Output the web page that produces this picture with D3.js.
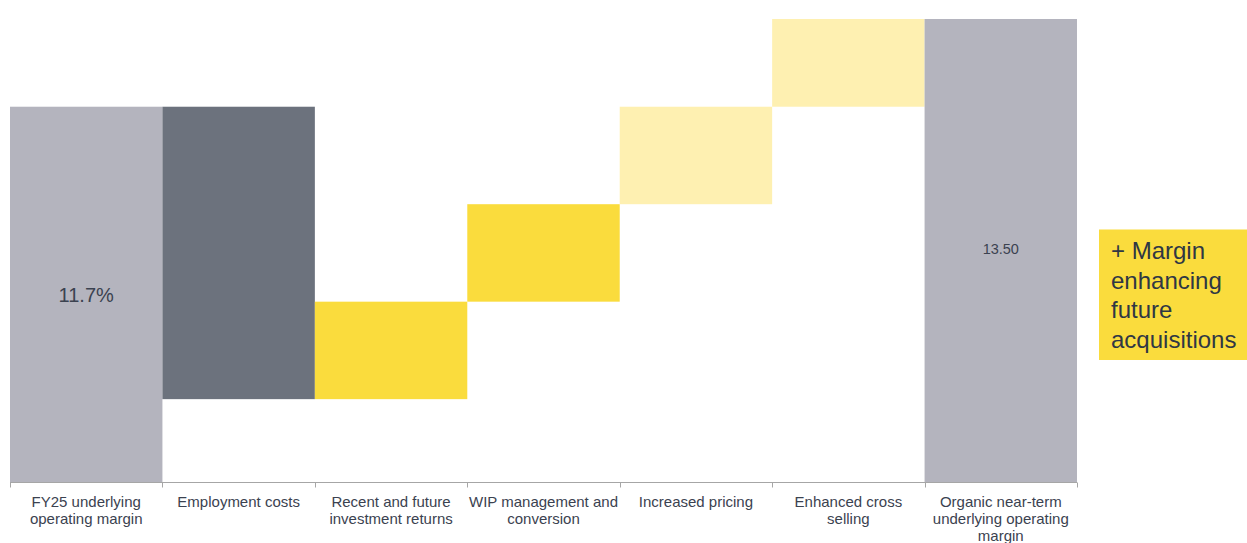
<!DOCTYPE html>
<html>
<head>
<meta charset="utf-8">
<script src="https://cdn.jsdelivr.net/npm/d3@7"></script>
<style>
  html, body { margin: 0; padding: 0; background: #ffffff; }
  svg { display: block; font-family: "Liberation Sans", Arial, sans-serif; }
</style>
</head>
<body>
<svg id="chart" width="1247" height="543"></svg>
<script>
// Waterfall steps: operating margin bridge (percentage points)
const categories = [
  "FY25 underlying operating margin",
  "Employment costs",
  "Recent and future investment returns",
  "WIP management and conversion",
  "Increased pricing",
  "Enhanced cross selling",
  "Organic near-term underlying operating margin"
];
const categoryLines = [
  ["FY25 underlying", "operating margin"],
  ["Employment costs"],
  ["Recent and future", "investment returns"],
  ["WIP management and", "conversion"],
  ["Increased pricing"],
  ["Enhanced cross", "selling"],
  ["Organic near-term", "underlying operating", "margin"]
];
const stepValues = [11.7, -6.0, 2.0, 2.0, 2.0, 1.8, 13.5];
const stepKinds = ["total", "decrease", "increase", "increase", "uplift", "uplift", "total"];
const valueLabels = ["11.7%", null, null, null, null, null, "13.50"];
const calloutLines = ["+ Margin", "enhancing", "future", "acquisitions"];

const colors = {
  total: "#b4b4be",
  decrease: "#6c727d",
  increase: "#fadc3d",
  uplift: "#fef0b1"
};

// Build running start/end for each bar
let running = 0;
const bars = categories.map((c, i) => {
  let y0, y1;
  if (stepKinds[i] === "total") {
    y0 = 4; y1 = stepValues[i];
    running = stepValues[i];
  } else {
    y0 = running; y1 = running + stepValues[i];
    running = y1;
  }
  return { cat: c, lines: categoryLines[i], kind: stepKinds[i], y0, y1, label: valueLabels[i] };
});

const svg = d3.select("#chart");

const x = d3.scaleBand().domain(categories).range([10, 1077]).padding(0);
const y = d3.scaleLinear().domain([4, 13.5]).range([482, 19]);

// Bars
svg.append("g").selectAll("rect")
  .data(bars)
  .join("rect")
  .attr("x", d => x(d.cat))
  .attr("width", x.bandwidth())
  .attr("y", d => y(Math.max(d.y0, d.y1)))
  .attr("height", d => Math.abs(y(d.y0) - y(d.y1)))
  .attr("fill", d => colors[d.kind]);

// Value labels inside total bars
svg.append("g").selectAll("text")
  .data(bars.filter(d => d.label))
  .join("text")
  .attr("x", d => x(d.cat) + x.bandwidth() / 2)
  .attr("y", (d, i) => i === 0 ? 302 : 254)
  .attr("text-anchor", "middle")
  .attr("font-size", (d, i) => i === 0 ? 20 : 14.5)
  .attr("fill", "#3b4250")
  .text(d => d.label);

// Category axis
const axisG = svg.append("g").attr("transform", "translate(0,482.5)");
axisG.append("line")
  .attr("x1", 10).attr("x2", 1077)
  .attr("stroke", "#a6a6a6").attr("stroke-width", 1);
const edges = categories.map(c => x(c)).concat([x.range()[1]]);
axisG.selectAll("line.tick")
  .data(edges)
  .join("line")
  .attr("class", "tick")
  .attr("x1", d => Math.round(d) + 0.5).attr("x2", d => Math.round(d) + 0.5)
  .attr("y1", 0).attr("y2", 5)
  .attr("stroke", "#a6a6a6").attr("stroke-width", 1);

const labelG = svg.append("g");
bars.forEach(d => {
  const t = labelG.append("text")
    .attr("text-anchor", "middle")
    .attr("font-size", 15)
    .attr("fill", "#3b4250");
  d.lines.forEach((ln, k) => {
    t.append("tspan")
      .attr("x", x(d.cat) + x.bandwidth() / 2)
      .attr("y", 507 + k * 17)
      .text(ln);
  });
});

// Callout box
svg.append("rect")
  .attr("x", 1099).attr("y", 229.5)
  .attr("width", 148).attr("height", 130.5)
  .attr("fill", "#fadc3d");
const callout = svg.append("text")
  .attr("font-size", 24)
  .attr("fill", "#2f3744");
calloutLines.forEach((ln, k) => {
  callout.append("tspan")
    .attr("x", 1111)
    .attr("y", 259 + k * 29.6)
    .text(ln);
});
</script>
</body>
</html>
